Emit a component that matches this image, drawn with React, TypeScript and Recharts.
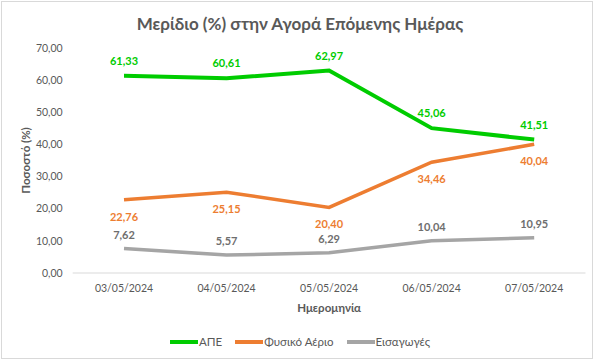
import React from 'react';
import { LineChart, Line, XAxis, YAxis, LabelList } from 'recharts';

const categories = ['03/05/2024', '04/05/2024', '05/05/2024', '06/05/2024', '07/05/2024'];
const renewables = [61.33, 60.61, 62.97, 45.06, 41.51];
const naturalGas = [22.76, 25.15, 20.4, 34.46, 40.04];
const imports = [7.62, 5.57, 6.29, 10.04, 10.95];
const yTicks = [0, 10, 20, 30, 40, 50, 60, 70];

const seriesNames = ['ΑΠΕ', 'Φυσικό Αέριο', 'Εισαγωγές'];
const colors = ['#00CC00', '#ED7D31', '#A5A5A5'];

const data = categories.map((c, i) => ({
  date: c,
  ape: renewables[i],
  gas: naturalGas[i],
  imp: imports[i],
}));

const fmt = (v: number) => Number(v).toFixed(2).replace('.', ',');
const FONT = 'Lato, "Noto Sans", sans-serif';

export default function App() {
  return (
    <div
      style={{
        position: 'absolute',
        left: 0,
        top: 0,
        width: 600,
        height: 361,
        background: '#fff',
        fontFamily: FONT,
      }}
    >
      <div
        style={{
          position: 'absolute',
          left: 1,
          top: 1,
          width: 592,
          height: 358,
          border: '1px solid #D9D9D9',
          boxSizing: 'border-box',
        }}
      />
      <div
        style={{
          position: 'absolute',
          left: 0,
          top: 13,
          width: 600,
          textAlign: 'center',
          fontSize: 17,
          fontWeight: 700,
          color: '#595959',
          lineHeight: '22px',
        }}
      >
        Μερίδιο (%) στην Αγορά Επόμενης Ημέρας
      </div>
      <div style={{ position: 'absolute', left: 0, top: 0 }}>
        <LineChart
          width={600}
          height={361}
          data={data}
          margin={{ top: 48, right: 14.5, left: 0, bottom: 58 }}
          style={{ fontFamily: FONT }}
        >
          <XAxis
            dataKey="date"
            tickLine={false}
            tickSize={0}
            tickMargin={12}
            axisLine={{ stroke: '#D9D9D9', strokeWidth: 1 }}
            padding={{ left: 51.3, right: 51.3 }}
            tick={{ fill: '#595959', fontSize: 10.5 }}
            height={30}
            label={{
              value: 'Ημερομηνία',
              position: 'insideBottom',
              offset: -9,
              style: { fill: '#595959', fontSize: 11.5, fontWeight: 700, textAnchor: 'middle' },
            }}
          />
          <YAxis
            domain={[0, 70]}
            ticks={yTicks}
            tickFormatter={fmt}
            width={72.7}
            tickLine={false}
            tickSize={0}
            tickMargin={10}
            axisLine={false}
            tick={{ fill: '#595959', fontSize: 10.5 }}
            label={{
              value: 'Ποσοστό (%)',
              angle: -90,
              position: 'insideLeft',
              offset: 26,
              style: { fill: '#595959', fontSize: 11.5, fontWeight: 700, textAnchor: 'middle' },
            }}
          />
          <Line
            dataKey="ape"
            name={seriesNames[0]}
            stroke={colors[0]}
            strokeWidth={4}
            dot={false}
            isAnimationActive={false}
          >
            <LabelList
              dataKey="ape"
              position="top"
              offset={11}
              formatter={fmt}
              style={{ fill: colors[0], fontSize: 11, fontWeight: 700 }}
            />
          </Line>
          <Line
            dataKey="gas"
            name={seriesNames[1]}
            stroke={colors[1]}
            strokeWidth={3.5}
            dot={false}
            isAnimationActive={false}
          >
            <LabelList
              dataKey="gas"
              position="bottom"
              offset={13}
              formatter={fmt}
              style={{ fill: colors[1], fontSize: 11, fontWeight: 700 }}
            />
          </Line>
          <Line
            dataKey="imp"
            name={seriesNames[2]}
            stroke={colors[2]}
            strokeWidth={3.5}
            dot={false}
            isAnimationActive={false}
          >
            <LabelList
              dataKey="imp"
              position="top"
              offset={10}
              formatter={fmt}
              style={{ fill: '#6E6E6E', fontSize: 11, fontWeight: 700 }}
            />
          </Line>
        </LineChart>
      </div>
      <div
        style={{
          position: 'absolute',
          left: 0,
          top: 334,
          width: 600,
          display: 'flex',
          justifyContent: 'center',
          alignItems: 'center',
          fontSize: 11.5,
          color: '#595959',
          lineHeight: '16px',
        }}
      >
        {seriesNames.map((n, i) => (
          <div
            key={n}
            style={{ display: 'flex', alignItems: 'center', marginRight: i < 2 ? 13 : 0 }}
          >
            <svg width={28} height={6} style={{ display: 'block' }}>
              <line x1={0} y1={3} x2={28} y2={3} stroke={colors[i]} strokeWidth={4} />
            </svg>
            <span style={{ marginLeft: 1 }}>{n}</span>
          </div>
        ))}
      </div>
    </div>
  );
}
